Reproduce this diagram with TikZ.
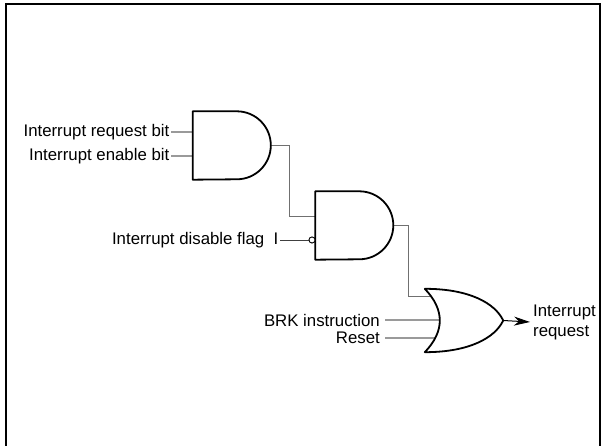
\documentclass[tikz,border=0pt]{standalone}
\usepackage{fontspec}
\setmainfont{Liberation Sans}
\usepackage{tikz}
\usetikzlibrary{positioning,arrows.meta,calc}
\definecolor{inwire}{HTML}{9A9A9A}
\definecolor{midwire}{HTML}{707070}
\tikzset{
  lbl/.style={inner sep=1.5pt, font=\fontsize{16.8}{20}\selectfont},
  gatebox/.style={draw=none, inner sep=0pt, minimum width=78pt},
  gateline/.style={draw=black, line width=1.8pt, fill=white, line join=round},
  inwire/.style={draw=inwire, line width=1.1pt},
  wire/.style={draw=midwire, line width=0.9pt},
  bubble/.style={circle, draw=black, line width=0.8pt, fill=white, minimum size=6pt, inner sep=0pt},
  outarrow/.style={-{Stealth[length=16pt, width=9pt, inset=5pt]}, line width=1pt},
}
\begin{document}
\begin{tikzpicture}[x=1pt, y=1pt]
  \useasboundingbox (0,0) rectangle (604,446);
  % frame, open at the bottom
  \draw[line width=2.2pt] (6,-3) -- (6,442) -- (600,442) -- (600,-3);

  % gates (outlines drawn after the wires)
  \node[gatebox, minimum height=68pt] (and1) at (232,300.5) {};
  \node[gatebox, minimum height=68pt] (and2) at (354.5,220.5) {};
  \node[gatebox, minimum height=63pt] (or1) at (464,125.5) {};
  \node[bubble] (inv) at (312,206) {};

  % input labels
  \node[lbl, anchor=east] (req) at (171,314) {Interrupt request bit};
  \node[lbl, anchor=east] (ena) at (171,290) {Interrupt enable bit};
  \node[lbl, anchor=east] (flag) at (280,206) {Interrupt disable flag\ \ I};
  \node[lbl, anchor=east, inner sep=5pt] (brk) at (385,126) {BRK instruction};
  \node[lbl, anchor=east, inner sep=5pt] (rst) at (385,108) {Reset};
  \node[lbl, anchor=west, align=left, inner sep=3pt] (irq) at (530,124) {Interrupt\\request};

  % wires
  \draw[inwire] (req.east) -- (req.east -| and1.west);
  \draw[inwire] (ena.east) -- (ena.east -| and1.west);
  \draw[draw=black!75, line width=0.9pt] (flag.east) -- (inv.west);
  \draw[wire] (and1.east) -- ++(18,0) |- ($(and2.west)+(0,9.5)$);
  \draw[wire] (and2.east) -- ++(15,0) |- ($(or1.west)+(20,24.5)$);
  \draw[inwire] (brk.east) -- ($(brk.east -| or1.west)+(20,0)$);
  \draw[inwire] (rst.east) -- ($(rst.east -| or1.west)+(20,0)$);

  \draw[gateline] (and1.north west) -- ++(44,0) arc[start angle=90, end angle=-90, radius=34] -- (and1.south west) -- cycle;
  \draw[gateline] (and2.north west) -- ++(44,0) arc[start angle=90, end angle=-90, radius=34] -- (and2.south west) -- cycle;
  \draw[gateline] (or1.north west) .. controls +(45,0) and +(-8,17) .. (or1.east)
    .. controls +(-8,-17) and +(45,0) .. (or1.south west)
    .. controls +(20,21) and +(20,-21) .. (or1.north west) -- cycle;
  \node[bubble] at (inv) {};

  \draw[outarrow] (or1.east) -- (irq.west);
\end{tikzpicture}
\end{document}
